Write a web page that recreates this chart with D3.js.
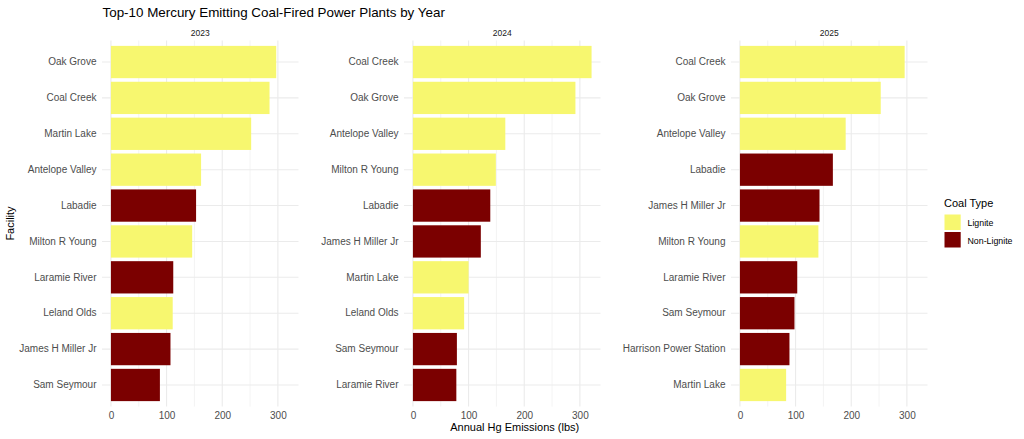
<!DOCTYPE html>
<html>
<head>
<meta charset="utf-8">
<script src="https://cdn.jsdelivr.net/npm/d3@7"></script>
<style>
  html, body { margin: 0; padding: 0; background: #fff; }
  svg { display: block; font-family: "Liberation Sans", Arial, sans-serif; }
</style>
</head>
<body>
<svg id="chart" width="1024" height="439"></svg>
<script>
// ---- Data ----
const years = ["2023", "2024", "2025"];

const facilities2023 = ["Oak Grove", "Coal Creek", "Martin Lake", "Antelope Valley", "Labadie",
  "Milton R Young", "Laramie River", "Leland Olds", "James H Miller Jr", "Sam Seymour"];
const values2023 = [297, 285, 252, 162, 153, 146, 112, 111, 107, 88];
const types2023 = ["Lignite", "Lignite", "Lignite", "Lignite", "Non-Lignite",
  "Lignite", "Non-Lignite", "Lignite", "Non-Lignite", "Non-Lignite"];

const facilities2024 = ["Coal Creek", "Oak Grove", "Antelope Valley", "Milton R Young", "Labadie",
  "James H Miller Jr", "Martin Lake", "Leland Olds", "Sam Seymour", "Laramie River"];
const values2024 = [321, 292, 166, 149, 139, 122, 100, 92, 79, 78];
const types2024 = ["Lignite", "Lignite", "Lignite", "Lignite", "Non-Lignite",
  "Non-Lignite", "Lignite", "Lignite", "Non-Lignite", "Non-Lignite"];

const facilities2025 = ["Coal Creek", "Oak Grove", "Antelope Valley", "Labadie", "James H Miller Jr",
  "Milton R Young", "Laramie River", "Sam Seymour", "Harrison Power Station", "Martin Lake"];
const values2025 = [296, 253, 190, 167, 143, 141, 103, 98, 89, 83];
const types2025 = ["Lignite", "Lignite", "Lignite", "Non-Lignite", "Non-Lignite",
  "Lignite", "Non-Lignite", "Non-Lignite", "Non-Lignite", "Lignite"];

const xTicks = [0, 100, 200, 300];
const xMinorTicks = [50, 150, 250];
const coalTypes = ["Lignite", "Non-Lignite"];
const coalColors = ["#F7F76F", "#7B0000"];

const titleText = "Top-10 Mercury Emitting Coal-Fired Power Plants by Year";
const xTitle = "Annual Hg Emissions (lbs)";
const yTitle = "Facility";
const legendTitle = "Coal Type";

// ---- Build panels ----
const panelsData = [
  { year: years[0], names: facilities2023, values: values2023, types: types2023 },
  { year: years[1], names: facilities2024, values: values2024, types: types2024 },
  { year: years[2], names: facilities2025, values: values2025, types: types2025 }
];

const svg = d3.select("#chart");
const panelLefts = [102, 404, 731];
const panelWidth = 196.5;
const panelTop = 40.5, panelBottom = 406.5;

const maxVal = d3.max(panelsData.flatMap(p => p.values));
const pad = 0.05 * maxVal;
const color = d3.scaleOrdinal().domain(coalTypes).range(coalColors);

const gridCol = "#ebebeb";
const axisTextCol = "#4d4d4d";

panelsData.forEach((p, i) => {
  const left = panelLefts[i];
  const x = d3.scaleLinear().domain([-pad, maxVal + pad]).range([left, left + panelWidth]);
  const y = d3.scaleBand().domain(p.names).range([panelTop, panelBottom])
    .paddingInner(0.1).paddingOuter(0.15);
  const g = svg.append("g");

  // minor vertical grid
  g.selectAll(".minor").data(xMinorTicks).enter().append("line")
    .attr("x1", d => x(d)).attr("x2", d => x(d))
    .attr("y1", panelTop).attr("y2", panelBottom)
    .attr("stroke", gridCol).attr("stroke-width", 0.6);
  // major vertical grid
  g.selectAll(".major").data(xTicks).enter().append("line")
    .attr("x1", d => x(d)).attr("x2", d => x(d))
    .attr("y1", panelTop).attr("y2", panelBottom)
    .attr("stroke", gridCol).attr("stroke-width", 1.1);
  // horizontal grid
  g.selectAll(".hgrid").data(p.names).enter().append("line")
    .attr("x1", left).attr("x2", left + panelWidth)
    .attr("y1", d => y(d) + y.bandwidth() / 2).attr("y2", d => y(d) + y.bandwidth() / 2)
    .attr("stroke", gridCol).attr("stroke-width", 1.1);

  // bars
  g.selectAll(".bar").data(p.names.map((n, j) => ({ n, v: p.values[j], t: p.types[j] })))
    .enter().append("rect")
    .attr("x", x(0)).attr("y", d => y(d.n))
    .attr("width", d => x(d.v) - x(0)).attr("height", y.bandwidth())
    .attr("fill", d => color(d.t));

  // y axis labels
  const yAxis = d3.axisLeft(y).tickSize(0).tickPadding(5.5);
  const ya = g.append("g").attr("transform", `translate(${left},0)`).call(yAxis);
  ya.select(".domain").remove();
  ya.selectAll("text").attr("font-size", 10).attr("fill", axisTextCol)
    .attr("font-family", "Liberation Sans, Arial, sans-serif");

  // x axis labels
  const xAxis = d3.axisBottom(x).tickValues(xTicks).tickSize(0).tickPadding(0).tickFormat(d3.format("d"));
  const xa = g.append("g").attr("transform", `translate(0,${panelBottom})`).call(xAxis);
  xa.select(".domain").remove();
  xa.selectAll("text").attr("font-size", 10).attr("fill", axisTextCol)
    .attr("dy", null).attr("y", 12)
    .attr("font-family", "Liberation Sans, Arial, sans-serif");

  // strip label
  g.append("text").attr("x", left + panelWidth / 2).attr("y", 36)
    .attr("text-anchor", "middle").attr("font-size", 8.5).attr("fill", "#1a1a1a")
    .text(p.year);
});

// title
svg.append("text").attr("x", 102.5).attr("y", 16.8)
  .attr("font-size", 13.4).attr("fill", "#000").text(titleText);

// x axis title
svg.append("text").attr("x", (panelLefts[0] + panelLefts[2] + panelWidth) / 2).attr("y", 431)
  .attr("text-anchor", "middle").attr("font-size", 11).attr("fill", "#000").text(xTitle);

// y axis title
svg.append("text").attr("transform", `translate(14,${(panelTop + panelBottom) / 2}) rotate(-90)`)
  .attr("text-anchor", "middle").attr("font-size", 11).attr("fill", "#000").text(yTitle);

// legend
const lg = svg.append("g");
lg.append("text").attr("x", 944).attr("y", 206.5).attr("font-size", 11).attr("fill", "#000").text(legendTitle);
const keySize = 17;
coalTypes.forEach((t, i) => {
  const ky = 214.5 + i * (keySize + 0.5);
  lg.append("rect").attr("x", 944.5).attr("y", ky).attr("width", keySize - 0.8).attr("height", keySize - 1.5)
    .attr("fill", color(t));
  lg.append("text").attr("x", 967.5).attr("y", ky + keySize / 2).attr("dy", "0.35em")
    .attr("font-size", 8.8).attr("fill", "#000").text(t);
});
</script>
</body>
</html>
